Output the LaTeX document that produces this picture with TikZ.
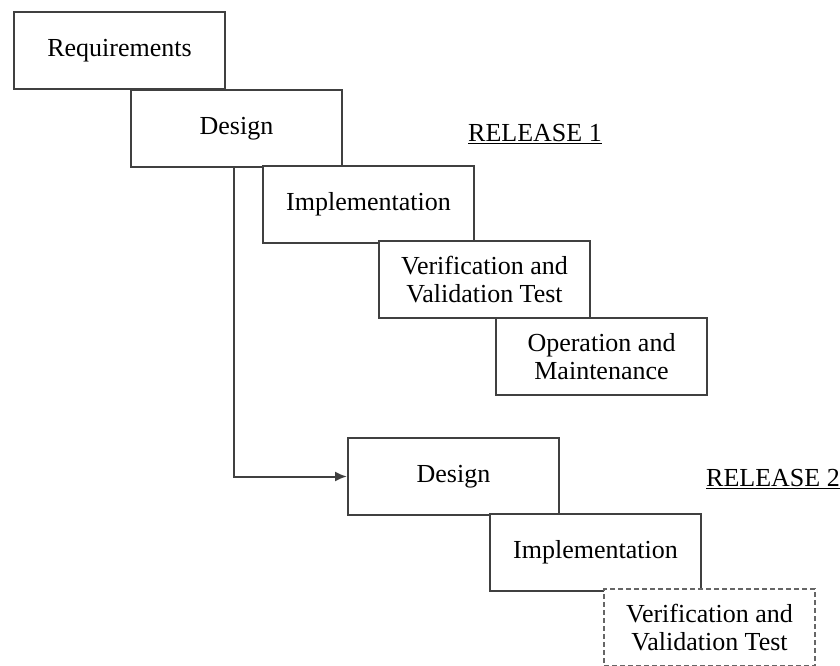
\documentclass[tikz,border=0pt]{standalone}
\usepackage{fontspec}
\setmainfont{Liberation Serif}
\usetikzlibrary{arrows.meta,calc}

\tikzset{
  phase/.style={draw=black!75, line width=2pt, fill=white, anchor=north west,
    minimum width=211pt, minimum height=77pt, inner sep=0pt, align=center,
    font=\fontsize{26}{28}\selectfont},
  planned/.style={phase, dash pattern=on 5pt off 3pt, draw=black!60},
  flow/.style={draw=black!75, line width=2pt, -{Latex[length=12pt,width=10pt]}},
  release/.style={font=\fontsize{26}{28}\selectfont, inner sep=0pt}
}

\begin{document}
\begin{tikzpicture}[x=1pt,y=-1pt]
  \useasboundingbox (0,0) rectangle (840,666);

  % Release 1 cascade
  \node[phase] (req) at (13,11)  {Requirements};
  \node[phase] (des) at (130,89) {Design};
  \node[phase] (imp) at (262,165) {Implementation};
  \node[phase] (ver) at (378,240) {Verification and\\Validation Test};
  \node[phase] (ops) at (495,317) {Operation and\\Maintenance};

  % Release 2 cascade
  \node[phase] (des2) at (347,437) {Design};
  \node[phase] (imp2) at (489,513) {Implementation};
  \node[planned] (ver2) at (603,588) {Verification and\\Validation Test};

  % Headings
  \node[release] (rel1) at (535,134) {\underline{RELEASE 1}};
  \node[release] (rel2) at (773,479) {\underline{RELEASE 2}};

  % Feedback from the first design into the second release
  \coordinate (tap) at ($(des.south west)+(104,0)$);
  \draw[flow] (tap) |- (des2.west);
\end{tikzpicture}
\end{document}
